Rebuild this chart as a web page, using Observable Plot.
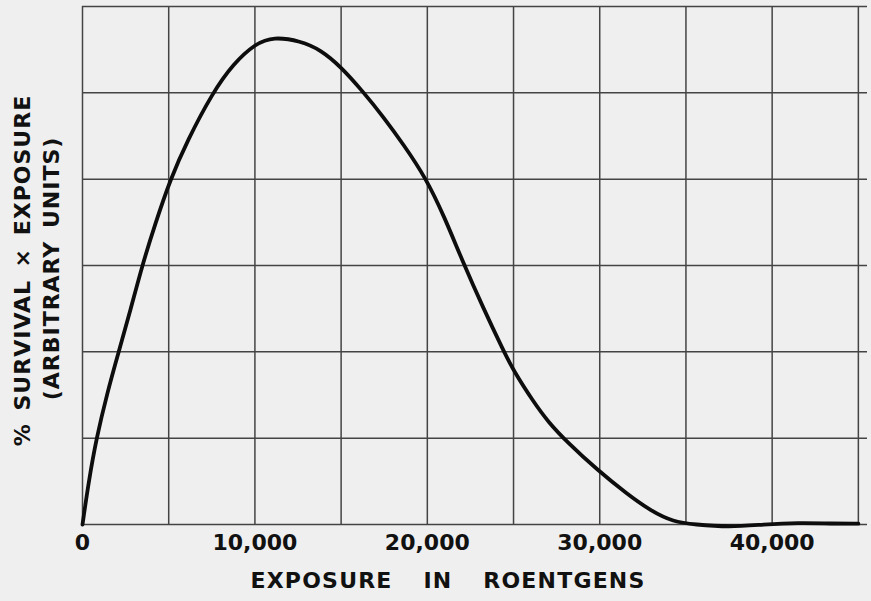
<!DOCTYPE html>
<html>
<head>
<meta charset="utf-8">
<script src="https://cdn.jsdelivr.net/npm/d3@7"></script>
<script src="https://cdn.jsdelivr.net/npm/@observablehq/plot@0.6"></script>
<style>
  html, body { margin: 0; padding: 0; background: #efefef; }
  #chart svg { display: block; }
</style>
</head>
<body>
<div id="chart"></div>
<script>
// Exposure in roentgens (x) and % survival × exposure in arbitrary units (y)
const exposure = [0, 370, 810, 1430, 2100, 2780, 3460, 4230, 5100, 6090, 7540, 8760, 10030, 11080, 12650, 13800, 15000, 16240, 17460, 18620, 19900, 21000, 22040, 23260, 24400, 25000, 26160, 27000, 28130, 29870, 31610, 32950, 34280, 35500, 37500, 39500, 41500, 43500, 45000];
const survivalTimesExposure = [0, 0.51, 1, 1.52, 2, 2.48, 3, 3.49, 4, 4.45, 5, 5.34, 5.57, 5.65, 5.6, 5.5, 5.3, 5.02, 4.72, 4.4, 4.02, 3.56, 3.05, 2.5, 2.02, 1.78, 1.42, 1.19, 0.95, 0.63, 0.35, 0.16, 0.03, 0, -0.03, 0, 0.02, 0.01, 0.01];

const xGridValues = [0, 5000, 10000, 15000, 20000, 25000, 30000, 35000, 40000, 45000];
const yGridValues = [0, 1, 2, 3, 4, 5, 6];
const xTickValues = [0, 10000, 20000, 30000, 40000];

const xLabel = "EXPOSURE IN ROENTGENS";
const yLabelLine1 = "% SURVIVAL × EXPOSURE";
const yLabelLine2 = "(ARBITRARY UNITS)";

const curve = exposure.map((e, i) => ({exposure: e, value: survivalTimesExposure[i]}));

const font = "'DejaVu Sans', sans-serif";

const chart = Plot.plot({
  width: 871,
  height: 601,
  marginLeft: 82,
  marginRight: 4,
  marginTop: 6,
  marginBottom: 77,
  style: {background: "#efefef", fontFamily: font, color: "#111"},
  x: {domain: [0, 45530]},
  y: {domain: [0, 6], axis: null},
  marks: [
    Plot.ruleX(xGridValues, {stroke: "#444", strokeWidth: 1.5}),
    Plot.ruleY(yGridValues, {stroke: "#444", strokeWidth: 1.5}),
    Plot.line(curve, {x: "exposure", y: "value", curve: "basis", stroke: "#0d0d0d", strokeWidth: 3.8}),
    Plot.axisX(xTickValues, {tickSize: 0, tickPadding: 10, tickFormat: d3.format(","), fontSize: 22, fontWeight: "bold", fill: "#111", label: null}),
    Plot.text([xLabel], {text: d => d, frameAnchor: "bottom", dy: 56, dx: -27, lineAnchor: "middle", fontSize: 22, fontWeight: "bold", fill: "#111"}),
    Plot.text([yLabelLine1], {text: d => d, frameAnchor: "left", rotate: -90, dx: -60, dy: 5, lineAnchor: "middle", textAnchor: "middle", fontSize: 22, fontWeight: "bold", fill: "#111"}),
    Plot.text([yLabelLine2], {text: d => d, frameAnchor: "left", rotate: -90, dx: -31, dy: 3, lineAnchor: "middle", textAnchor: "middle", fontSize: 22, fontWeight: "bold", fill: "#111"})
  ]
});

// typographic touches: letter and word spacing like the hand lettering
d3.select(chart).selectAll("text").each(function() {
  const t = this.textContent;
  if (t === xLabel) d3.select(this).style("letter-spacing", "1.2px").style("word-spacing", "22px");
  if (t === yLabelLine1 || t === yLabelLine2) d3.select(this).style("letter-spacing", "1px").style("word-spacing", "4px");
});

document.getElementById("chart").appendChild(chart);
</script>
</body>
</html>
